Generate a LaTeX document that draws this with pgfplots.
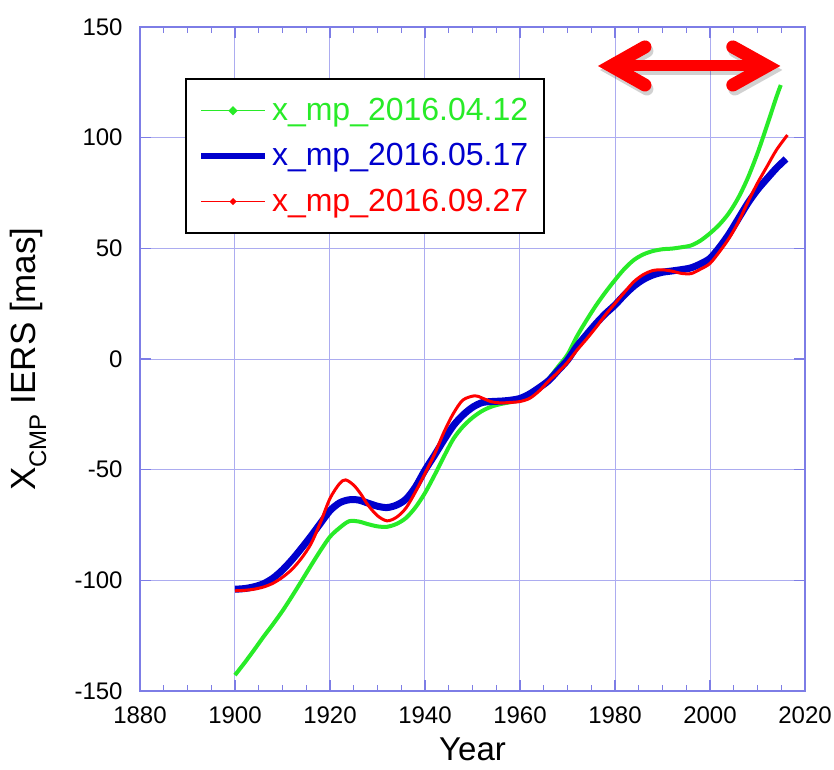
\documentclass[border=0pt]{standalone}
\usepackage{pgfplots}
\pgfplotsset{compat=1.18}
\usepackage{fontspec}
\setmainfont{Liberation Sans}

\definecolor{gridblue}{RGB}{172,172,240}
\definecolor{axisblue}{RGB}{125,125,230}
\definecolor{mpgreen}{RGB}{40,235,40}
\definecolor{mpblue}{RGB}{0,0,205}
\definecolor{mpred}{RGB}{255,0,0}

% red double arrow (drawn twice: shadow, then arrow)
\newcommand\dblarrow[1]{%
\draw[#1, line width=5.5pt] (axis cs:1980,132.4) -- (axis cs:2011,132.4);
\draw[#1, line width=6.5pt, line cap=round, line join=miter] (axis cs:1986.3,141) -- (axis cs:1979.2,132.4) -- (axis cs:1986.3,123.8);
\draw[#1, line width=6.5pt, line cap=round, line join=miter] (axis cs:2004.8,141) -- (axis cs:2012.0,132.4) -- (axis cs:2004.8,123.8);
}

\begin{document}
\begin{tikzpicture}
\begin{axis}[
scale only axis,
width=332.5pt, height=332pt,
xmin=1880, xmax=2020, ymin=-150, ymax=150,
xtick distance=20, ytick distance=50,
minor x tick num=3,
tick align=inside, tick pos=both,
major tick length=5.5pt, minor tick length=3pt,
every tick/.style={axisblue, line width=0.6pt},
axis line style={axisblue, line width=0.7pt},
grid=major, grid style={gridblue, line width=0.5pt},
/pgf/number format/assume math mode=true,
/pgf/number format/1000 sep={},
tick label style={font=\fontsize{12}{14}\selectfont, inner sep=0pt},
xticklabel style={yshift=-7.5pt},
yticklabel style={xshift=-8.5pt},
xlabel={Year},
ylabel={X\raisebox{-5.5pt}{\fontsize{12}{14}\selectfont CMP} IERS [mas]},
label style={inner sep=0pt},
xlabel style={font=\fontsize{16.5}{19}\selectfont, at={(rel axis cs:0.5,-0.070)}, anchor=north},
ylabel style={font=\fontsize{17.5}{20}\selectfont, at={(rel axis cs:-0.14,0.5)}, anchor=south},
clip=false,
legend style={at={(rel axis cs:0.0677,0.923)}, anchor=north west, draw=black, line width=1pt,
  fill=white, inner xsep=6pt, inner ysep=7.5pt, row sep=6pt, font=\fontsize{16}{19}\selectfont},
legend cell align=left,
]
\addplot [mpgreen, line width=2pt, smooth,
  legend image code/.code={\draw[mpgreen, line width=0.5pt] (0pt,0pt) -- (32pt,0pt); \fill[mpgreen] (16pt,0pt) circle (0.9pt);}]
table {%
1900 -142.8
1902 -137.3
1904 -131.5
1906 -125.5
1908 -119.8
1910 -113.8
1912 -107.2
1914 -100.3
1916 -93.3
1918 -86.5
1920 -80.3
1922 -76.3
1924 -73.3
1926 -73.4
1928 -74.6
1930 -75.6
1932 -75.8
1934 -74.5
1936 -71.8
1938 -67
1940 -60.5
1942 -52.5
1944 -44
1946 -36
1948 -30.5
1950 -26.5
1952 -23.5
1954 -21.5
1956 -20.3
1958 -19.5
1960 -18.5
1962 -16.5
1964 -13
1966 -9
1968 -3.5
1970 2
1972 10.3
1974 17.5
1976 24.2
1978 30.2
1980 35.7
1982 40.8
1984 44.8
1986 47.3
1988 48.8
1990 49.6
1992 49.9
1994 50.5
1996 51.3
1998 53.5
2000 56.8
2002 60.8
2004 66
2006 73
2008 82
2010 93
2012 105.5
2014 118.5
2014.9 123.8
};
\addlegendentry{\textcolor{mpgreen}{x\_mp\_2016.04.12}}
\addplot [mpblue, line width=3.5pt, smooth,
  legend image code/.code={\draw[mpblue, line width=3pt] (0pt,0pt) -- (32pt,0pt);}]
table {%
1900 -104
1902 -103.7
1904 -102.9
1906 -101.5
1908 -99
1910 -95.3
1912 -90.7
1914 -85.5
1916 -80
1918 -74.2
1920 -68.5
1922 -65
1924 -63.6
1926 -63.7
1928 -65.1
1930 -66.5
1932 -67.1
1934 -66
1936 -63.3
1938 -57.8
1940 -50.2
1942 -43.5
1944 -36.5
1946 -30
1948 -25.3
1950 -21.8
1952 -19.7
1954 -19.2
1956 -19
1958 -18.6
1960 -17.8
1962 -15.8
1964 -13
1966 -9.8
1968 -5.2
1970 -0.5
1972 5.8
1974 11
1976 16
1978 20.5
1980 24.4
1982 29
1984 33
1986 36
1988 38
1990 39.2
1992 39.8
1994 40.4
1996 41.2
1998 43
2000 45.5
2002 50.5
2004 56.5
2006 63.5
2008 70.5
2010 76.5
2012 81.5
2014 86.3
2016 90.4
};
\addlegendentry{\textcolor{mpblue}{x\_mp\_2016.05.17}}
\addplot [mpred, line width=1.5pt, smooth,
  legend image code/.code={\draw[mpred, line width=0.5pt] (0pt,0pt) -- (32pt,0pt); \fill[mpred] (16pt,0pt) circle (0.7pt);}]
table {%
1900 -104.7
1902 -104.5
1904 -104
1906 -103
1908 -101.3
1910 -98.6
1912 -95
1914 -90
1916 -83.5
1918 -73.8
1920 -63
1922 -56.3
1923.3 -54.6
1925 -57
1926.5 -61
1928 -66
1930 -70.8
1932 -73.1
1934 -71.5
1936 -67.3
1938 -60
1940 -51.7
1942 -43
1944 -33
1946 -24.5
1948 -18.5
1950.5 -16.6
1952 -17.6
1954 -19.3
1956 -19.8
1958 -19.6
1960 -19.2
1962 -17.8
1964 -14.5
1966 -10
1968 -6
1970 -1.5
1972 4
1974 9
1976 14.3
1978 20
1980 25.1
1982 30.2
1984 35
1986 38.2
1988 40
1990 40.3
1992 39.7
1994 38.7
1996 38.6
1998 40.6
2000 43.2
2002 48.5
2004 54.5
2006 62
2008 71
2010 79.5
2012 87
2014 94.5
2016.3 101.2
};
\addlegendentry{\textcolor{mpred}{x\_mp\_2016.09.27}}
\dblarrow{black, opacity=0.18, xshift=1pt, yshift=-2pt}
\dblarrow{mpred}
\path (rel axis cs:-0.2105,-0.118) rectangle (rel axis cs:1.0436,1.0407);
\end{axis}
\end{tikzpicture}
\end{document}
